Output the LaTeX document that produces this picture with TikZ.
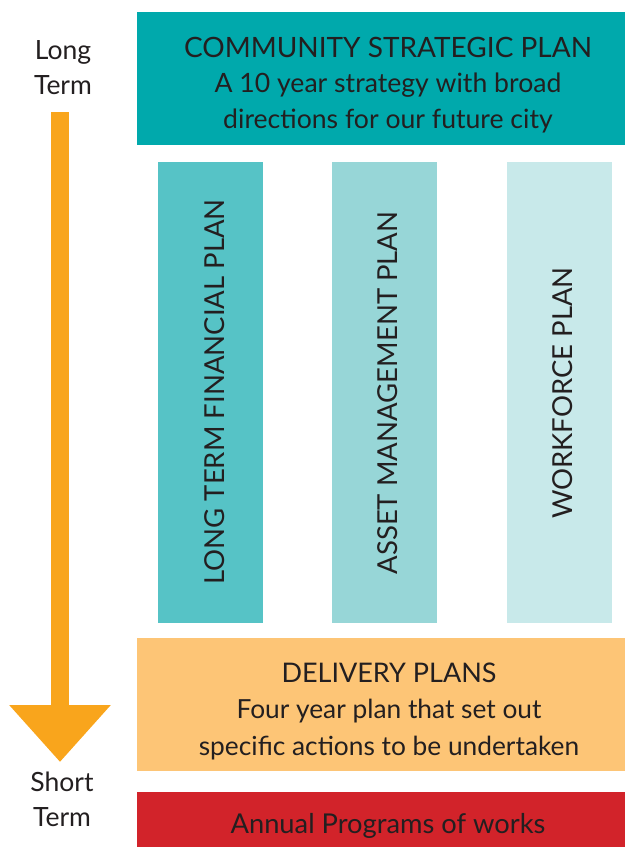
\documentclass[tikz,border=0pt]{standalone}
\usepackage{fontspec}
\setmainfont{Lato}
\usetikzlibrary{arrows.meta}
\definecolor{txt}{HTML}{231F20}
\definecolor{cspc}{HTML}{00A9AC}
\definecolor{colA}{HTML}{56C3C6}
\definecolor{colB}{HTML}{97D6D7}
\definecolor{colC}{HTML}{C8E9EA}
\definecolor{delc}{HTML}{FDC576}
\definecolor{annc}{HTML}{D2232A}
\definecolor{arrc}{HTML}{F9A51C}
\tikzset{
  band/.style={anchor=north west, inner sep=0pt, minimum width=488pt, text=txt, align=center},
  pillar/.style={anchor=north west, inner sep=0pt, minimum width=105pt, minimum height=461pt},
  pillartext/.style={rotate=90, text=txt, font=\fontsize{27.5}{30}\selectfont},
  side/.style={text=txt, align=center, font=\fontsize{26.5}{35}\selectfont},
}
\begin{document}
\begin{tikzpicture}[x=1pt,y=1pt]
\useasboundingbox (0,0) rectangle (625,-847);
\node[band, fill=cspc, minimum height=133pt] (csp) at (137,-12) {};
\node[text=txt, align=center, font=\fontsize{26.6}{35.5}\selectfont] (csptext) at (388,-85)
  {{\fontsize{28}{35.5}\selectfont COMMUNITY STRATEGIC PLAN}\\A 10 year strategy with broad\\directions for our future city};
\node[pillar, fill=colA] (p1) at (158,-162) {};
\node[pillar, fill=colB] (p2) at (332,-162) {};
\node[pillar, fill=colC] (p3) at (507,-162) {};
\node[pillartext] (t1) at (215,-392) {LONG TERM FINANCIAL PLAN};
\node[pillartext] (t2) at (388,-393) {ASSET MANAGEMENT PLAN};
\node[pillartext] (t3) at (563,-393) {WORKFORCE PLAN};
\node[band, fill=delc, minimum height=133pt] (del) at (137,-638) {};
\node[text=txt, align=center, font=\fontsize{26.3}{36.5}\selectfont] (deltext) at (389,-711)
  {{\fontsize{27}{36.5}\selectfont DELIVERY PLANS}\\Four year plan that set out\\specific actions to be undertaken};
\node[band, fill=annc, minimum height=55pt] (ann) at (137,-792) {};
\node[text=txt, font=\fontsize{27.3}{30}\selectfont] (anntext) at (388,-826) {Annual Programs of works};
\node[side] (long) at (63,-68) {Long\\Term};
\node[side] (short) at (62,-799) {Short\\Term};
\coordinate (as) at (60,-112);
\coordinate (ae) at (60,-762);
\draw[arrc, line width=18pt, -{Triangle[width=98pt,length=57pt]}] (as) -- (ae);
\end{tikzpicture}
\end{document}
